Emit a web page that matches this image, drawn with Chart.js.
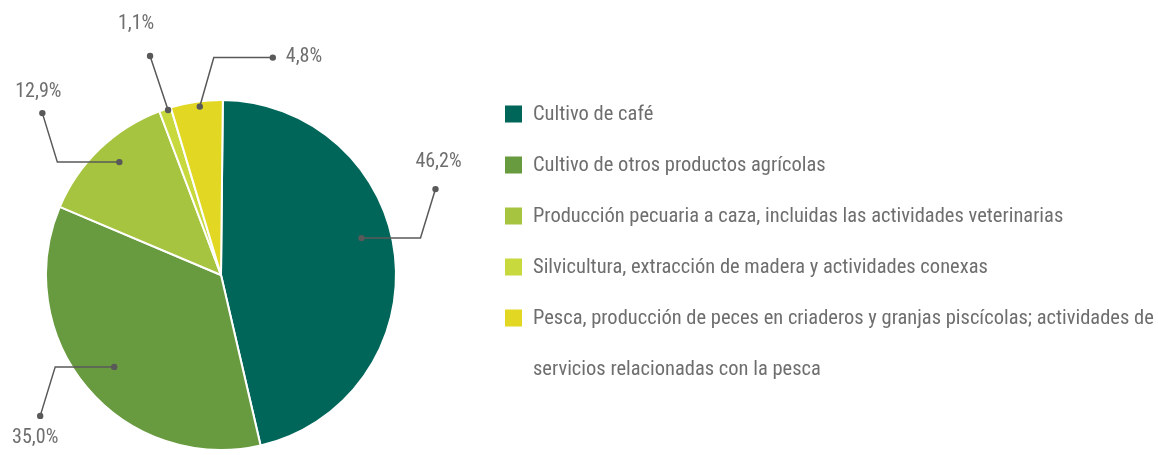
<!DOCTYPE html>
<html>
<head>
<meta charset="utf-8">
<script src="https://cdn.jsdelivr.net/npm/chart.js@4.4.1/dist/chart.umd.min.js"></script>
<style>
  html, body { margin: 0; padding: 0; background: #ffffff; }
  #wrap { width: 1158px; height: 455px; position: relative; }
</style>
</head>
<body>
<div id="wrap"><canvas id="c" width="1158" height="455"></canvas></div>
<script>
// ---- data ----
const categories = [
  "Cultivo de café",
  "Cultivo de otros productos agrícolas",
  "Producción pecuaria a caza, incluidas las actividades veterinarias",
  "Silvicultura, extracción de madera y actividades conexas",
  "Pesca, producción de peces en criaderos y granjas piscícolas; actividades de servicios relacionadas con la pesca"
];
const shares = [46.2, 35.0, 12.9, 1.1, 4.8];
const sliceColors = ["#00665a", "#689a3f", "#a6c43f", "#c8d93e", "#e2d824"];

// ---- styling for leader lines (position within slice + path offsets) ----
const leaderStyle = [
  { t: 0.449, rf: 0.83,  path: [[59, 0], [74, -49]],   label: [3, -27],  align: "center" },
  { t: 0.495, rf: 0.805, path: [[-59, 0], [-74, 49]],  label: [-5, 22],  align: "center" },
  { t: 0.54,  rf: 0.868, path: [[-62, 0], [-77, -49]], label: [-4, -21], align: "center" },
  { t: 0.72,  rf: 0.99,  path: [[-18, -54]],           label: [-14, -32], align: "center" },
  { t: 0.55,  rf: 0.97,  path: [[14, -49], [73, -49]], label: [13, -1],  align: "left" }
];

const FONT = "'Liberation Sans Narrow', 'Arial Narrow', 'Roboto Condensed', 'DejaVu Sans Condensed', sans-serif";
const TEXT_COLOR = "#6e6e6e";
const LINE_COLOR = "#595959";

const fmt = v => v.toFixed(1).replace('.', ',') + '%';

const leaderPlugin = {
  id: 'leaders',
  afterDatasetsDraw(chart) {
    const ctx = chart.ctx;
    const meta = chart.getDatasetMeta(0);
    ctx.save();
    meta.data.forEach((arc, i) => {
      const p = arc.getProps(['x', 'y', 'startAngle', 'endAngle', 'outerRadius'], true);
      const s = leaderStyle[i];
      const ang = p.startAngle + s.t * (p.endAngle - p.startAngle);
      const r = s.rf * p.outerRadius;
      const ax = p.x + Math.cos(ang) * r;
      const ay = p.y + Math.sin(ang) * r;
      ctx.strokeStyle = LINE_COLOR;
      ctx.fillStyle = LINE_COLOR;
      ctx.lineWidth = 1.5;
      ctx.beginPath();
      ctx.moveTo(ax, ay);
      s.path.forEach(([dx, dy]) => ctx.lineTo(ax + dx, ay + dy));
      ctx.stroke();
      const end = s.path[s.path.length - 1];
      const ex = ax + end[0], ey = ay + end[1];
      ctx.beginPath(); ctx.arc(ax, ay, 3.2, 0, Math.PI * 2); ctx.fill();
      ctx.beginPath(); ctx.arc(ex, ey, 3.2, 0, Math.PI * 2); ctx.fill();
      ctx.font = "20px " + FONT;
      ctx.fillStyle = TEXT_COLOR;
      ctx.textAlign = s.align;
      ctx.textBaseline = "middle";
      ctx.fillText(fmt(chart.data.datasets[0].data[i]), ex + s.label[0], ey + s.label[1]);
    });
    ctx.restore();
  }
};

const legendPlugin = {
  id: 'sideLegend',
  afterDraw(chart) {
    const ctx = chart.ctx;
    const x0 = 505, box = 17, tx = 533, maxW = 1158 - tx;
    const rowH = 51;
    let y = 114;
    ctx.save();
    ctx.font = "20.5px " + FONT;
    ctx.textBaseline = "middle";
    ctx.textAlign = "left";
    chart.data.labels.forEach((lab, i) => {
      ctx.fillStyle = chart.data.datasets[0].backgroundColor[i];
      ctx.fillRect(x0, y - box / 2, box, box);
      const words = lab.split(' ');
      const lines = [];
      let cur = '';
      words.forEach(w => {
        const test = cur ? cur + ' ' + w : w;
        if (ctx.measureText(test).width > maxW && cur) { lines.push(cur); cur = w; }
        else cur = test;
      });
      if (cur) lines.push(cur);
      ctx.fillStyle = TEXT_COLOR;
      lines.forEach((ln) => {
        ctx.fillText(ln, tx, y + 1);
        y += rowH;
      });
    });
    ctx.restore();
  }
};

new Chart(document.getElementById('c'), {
  type: 'pie',
  data: {
    labels: categories,
    datasets: [{
      data: shares,
      backgroundColor: sliceColors,
      borderColor: '#ffffff',
      borderWidth: 2
    }]
  },
  options: {
    responsive: false,
    animation: false,
    rotation: 0.6,
    layout: { padding: { left: 45, top: 99, right: 761, bottom: 4 } },
    plugins: {
      legend: { display: false },
      tooltip: { enabled: false }
    }
  },
  plugins: [leaderPlugin, legendPlugin]
});
</script>
</body>
</html>
